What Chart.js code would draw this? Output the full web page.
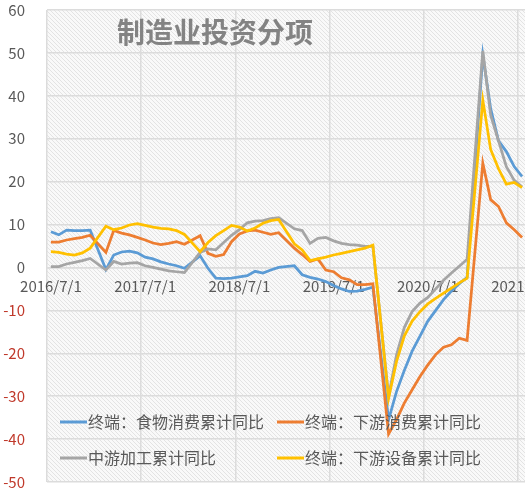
<!DOCTYPE html>
<html>
<head>
<meta charset="utf-8">
<script src="https://cdn.jsdelivr.net/npm/chart.js@4.4.1/dist/chart.umd.min.js"></script>
<style>
html,body{margin:0;padding:0;background:#ffffff;overflow:hidden;}
#wrap{width:580px;height:492px;position:relative;}
</style>
</head>
<body>
<div id="wrap"><canvas id="c" width="580" height="492"></canvas></div>
<script>
// ---- data ----
const chartTitle = '制造业投资分项';
const months = [
 '2016/7/1','2016/8/1','2016/9/1','2016/10/1','2016/11/1','2016/12/1',
 '2017/1/1','2017/2/1','2017/3/1','2017/4/1','2017/5/1','2017/6/1','2017/7/1','2017/8/1','2017/9/1','2017/10/1','2017/11/1','2017/12/1',
 '2018/1/1','2018/2/1','2018/3/1','2018/4/1','2018/5/1','2018/6/1','2018/7/1','2018/8/1','2018/9/1','2018/10/1','2018/11/1','2018/12/1',
 '2019/1/1','2019/2/1','2019/3/1','2019/4/1','2019/5/1','2019/6/1','2019/7/1','2019/8/1','2019/9/1','2019/10/1','2019/11/1','2019/12/1',
 '2020/1/1','2020/2/1','2020/3/1','2020/4/1','2020/5/1','2020/6/1','2020/7/1','2020/8/1','2020/9/1','2020/10/1','2020/11/1','2020/12/1',
 '2021/1/1','2021/2/1','2021/3/1','2021/4/1','2021/5/1','2021/6/1','2021/7/1'
];
const seriesNames = ['终端：食物消费累计同比','终端：下游消费累计同比','中游加工累计同比','终端：下游设备累计同比'];
const foodConsumption = [
 8.3,7.6,8.7,8.6,8.6,8.7,
 null,-0.5,2.9,3.6,3.8,3.4,2.4,2.0,1.3,0.8,0.4,-0.2,
 null,2.7,-0.2,-2.5,-2.6,-2.5,-2.2,-1.9,-0.9,-1.3,-0.6,0.0,
 null,0.4,-1.7,-2.3,-2.7,-3.3,-4.2,-5.0,-5.6,-5.5,-5.1,-4.6,
 null,-35.5,-29,-24,-19.5,-16,-12.5,-10,-7.5,-5.5,-3.8,-2.3,
 null,49.5,37,29.5,27,23.5,21.2
];
const downstreamConsumption = [
 5.9,5.9,6.4,6.7,7.0,7.5,
 null,3.5,8.6,8.0,7.6,7.0,6.4,5.7,5.3,5.6,6.0,5.4,
 null,7.4,3.3,2.6,3.0,6.0,7.8,8.5,8.7,8.2,7.7,8.1,
 null,4.5,3.0,1.4,2.0,-0.6,-1.0,-2.4,-2.9,-4.0,-4.0,-3.8,
 null,-38.8,-35.5,-31.6,-28.5,-25.4,-22.7,-20.3,-18.6,-18.0,-16.5,-17.0,
 null,24.3,15.8,14.2,10.4,8.8,7.0
];
const midstreamProcessing = [
 0.2,0.2,0.8,1.2,1.6,2.1,
 null,-0.6,1.4,0.8,1.0,1.1,0.4,0.0,-0.4,-0.8,-1.0,-1.2,
 null,3.5,4.3,4.1,5.8,7.5,8.8,10.4,10.8,10.9,11.4,11.6,
 null,9.0,8.6,5.6,6.8,7.0,6.2,5.6,5.3,5.2,4.9,4.9,
 null,-30,-20.5,-14,-10.3,-8.3,-7,-5,-3,-1.3,0.3,1.9,
 null,50.5,35.5,29.5,23.5,20.3,18.8
];
const downstreamEquipment = [
 3.7,3.5,3.1,2.9,3.4,4.5,
 null,9.6,8.8,9.2,9.9,10.2,9.8,9.4,9.1,9.0,8.6,7.7,
 null,3.7,5.8,7.4,8.6,9.8,9.4,8.5,9.2,10.3,10.9,11.2,
 null,5.5,4.1,1.6,2.0,2.4,2.9,3.3,3.7,4.1,4.5,5.2,
 null,-30.5,-22,-16,-12.5,-10.3,-8.5,-7.2,-6.0,-4.8,-3.6,-2.5,
 null,39,27.5,23,19.4,19.8,18.6
];
const yMin = -50, yMax = 60, yStep = 10;

// ---- styles ----
const FONT = '"Noto Sans CJK SC", "Noto Sans", sans-serif';
const colors = ['#5B9BD5','#ED7D31','#A5A5A5','#FFC000'];
const gridColor = '#dcdcdc';
Chart.defaults.font.family = FONT;

const seriesData = [foodConsumption, downstreamConsumption, midstreamProcessing, downstreamEquipment];

const hatchPlugin = {
  id: 'hatch',
  beforeDraw(chart) {
    const {ctx, chartArea: a} = chart;
    const t = document.createElement('canvas');
    t.width = 4; t.height = 4;
    const g = t.getContext('2d');
    g.fillStyle = '#f9f9f9'; g.fillRect(0, 0, 4, 4);
    g.strokeStyle = '#e3e3e3'; g.lineWidth = 1;
    g.beginPath();
    g.moveTo(0, 0); g.lineTo(4, 4);
    g.moveTo(-1, 3); g.lineTo(1, 5);
    g.moveTo(3, -1); g.lineTo(5, 1);
    g.stroke();
    ctx.save();
    ctx.fillStyle = ctx.createPattern(t, 'repeat');
    ctx.fillRect(a.left, a.top, a.right - a.left, a.bottom - a.top);
    ctx.restore();
  }
};

const overlayPlugin = {
  id: 'overlay',
  afterDatasetsDraw(chart) {
    const {ctx, chartArea: a} = chart;
    ctx.save();
    // title
    ctx.font = 'bold 28px ' + FONT;
    ctx.fillStyle = '#838383';
    ctx.textBaseline = 'middle';
    ctx.textAlign = 'left';
    ctx.fillText(chartTitle, a.left + 70, a.top + 22);
    // legend
    ctx.font = '16px ' + FONT;
    const cols = [a.left + 13, a.left + 230];
    const rows = [a.bottom - 60, a.bottom - 24];
    seriesNames.forEach((name, k) => {
      const x = cols[k % 2], y = rows[Math.floor(k / 2)];
      ctx.strokeStyle = colors[k];
      ctx.lineWidth = 3;
      ctx.beginPath(); ctx.moveTo(x, y); ctx.lineTo(x + 27, y); ctx.stroke();
      ctx.fillStyle = '#595959';
      ctx.fillText(name, x + 28, y);
    });
    ctx.restore();
  }
};

new Chart(document.getElementById('c'), {
  type: 'line',
  data: {
    labels: months,
    datasets: seriesNames.map((n, k) => ({
      label: n,
      data: seriesData[k],
      borderColor: colors[k],
      backgroundColor: colors[k],
      borderWidth: 2.75,
      pointRadius: 0,
      tension: 0,
      spanGaps: true,
      order: 3 - k
    }))
  },
  options: {
    responsive: false,
    animation: false,
    layout: {padding: {left: 0, right: 54, top: 10, bottom: 10}},
    plugins: {legend: {display: false}, tooltip: {enabled: false}},
    scales: {
      x: {
        type: 'category',
        offset: true,
        position: {y: 0},
        grid: {
          offset: true,
          drawTicks: false,
          lineWidth: 1.5,
          color: c => (c.index % 12 === 0 ? gridColor : 'rgba(0,0,0,0)')
        },
        border: {display: true, color: gridColor, width: 1.5},
        ticks: {
          autoSkip: false, maxRotation: 0, minRotation: 0, padding: 10,
          color: '#595959', font: {size: 15, family: FONT},
          callback: (v, i) => (months[i].split('/')[1] === '7' ? months[i] : '')
        }
      },
      y: {
        min: yMin, max: yMax,
        afterFit: s => { s.width = 47; },
        grid: {drawTicks: true, tickLength: 21, tickColor: 'rgba(0,0,0,0)', color: gridColor, lineWidth: 1.5},
        border: {display: false},
        ticks: {
          stepSize: yStep, padding: 1,
          font: {size: 15, family: FONT},
          color: c => (c.tick && c.tick.value < 0 ? '#c0392b' : '#595959')
        }
      }
    }
  },
  plugins: [hatchPlugin, overlayPlugin]
});
</script>
</body>
</html>
